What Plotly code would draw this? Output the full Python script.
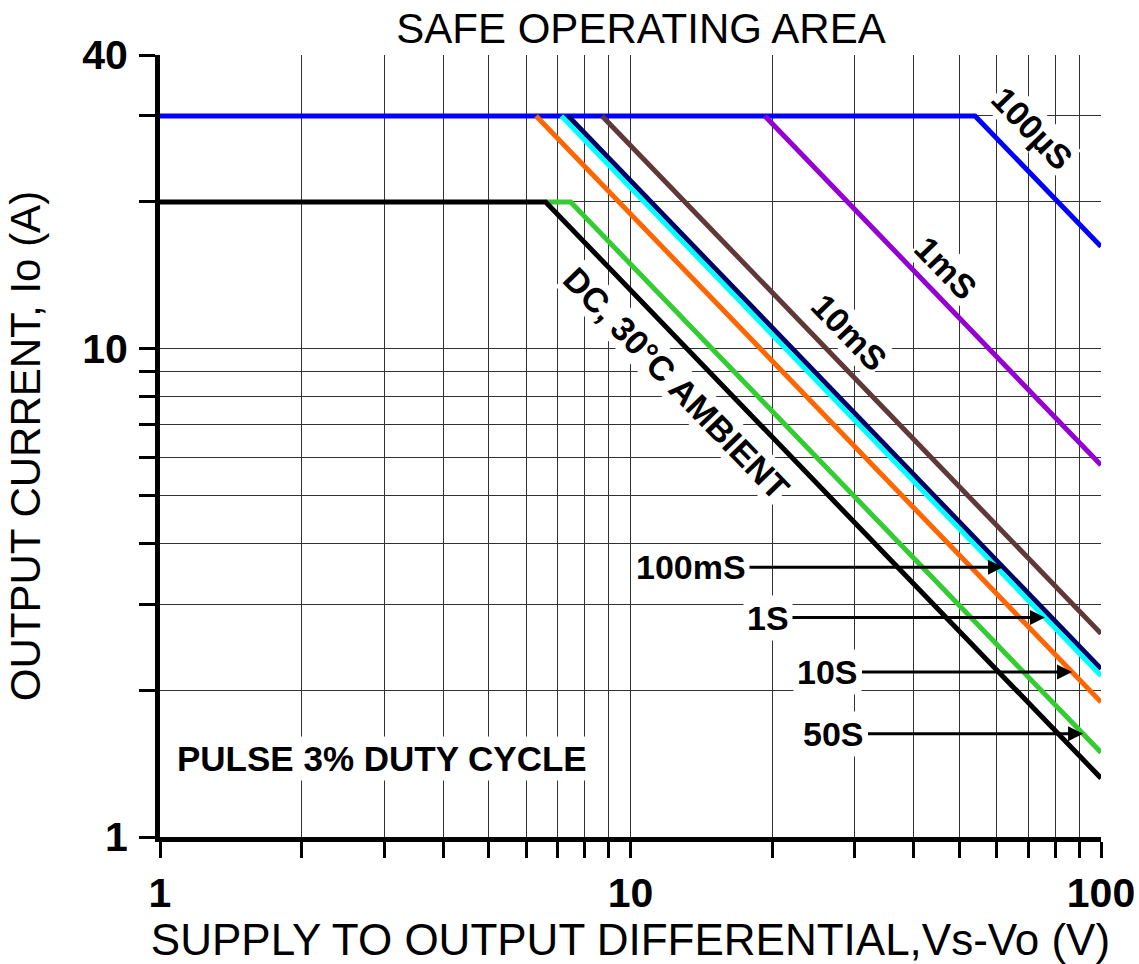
import math
import plotly.graph_objects as go

# ---------------- data ----------------
# Supply-to-output differential Vs-Vo (V) and output current Io (A) per curve
v_100us = [1, 54, 100]
i_100us = [30, 30, 16.2]
v_1ms = [19.3, 100]
i_1ms = [30, 5.78]
v_10ms = [8.7, 100]
i_10ms = [30, 2.61]
v_100ms = [7.37, 100]
i_100ms = [30, 2.21]
v_1s = [7.13, 100]
i_1s = [30, 2.14]
v_10s = [6.3, 100]
i_10s = [30, 1.89]
v_50s = [6.6, 7.46, 100]
i_50s = [20, 20, 1.49]
v_dc = [1, 6.6, 100]
i_dc = [20, 20, 1.32]

series_names = ["100µS", "1mS", "10mS", "100mS", "1S", "10S", "50S", "DC, 30°C AMBIENT"]
series_v = [v_100us, v_1ms, v_10ms, v_100ms, v_1s, v_10s, v_50s, v_dc]
series_i = [i_100us, i_1ms, i_10ms, i_100ms, i_1s, i_10s, i_50s, i_dc]
series_colors = ["#0000FF", "#9400D3", "#603838", "#000066", "#00FFFF",
                 "#FF6600", "#33CC33", "#000000"]

x_tickvals = [1, 2, 3, 4, 5, 6, 7, 8, 9, 10, 20, 30, 40, 50, 60, 70, 80, 90, 100]
x_ticktext = ["1"] + [""] * 8 + ["10"] + [""] * 8 + ["100"]
y_tickvals = [1, 2, 3, 4, 5, 6, 7, 8, 9, 10, 20, 30, 40]
y_ticktext = ["1"] + [""] * 8 + ["10", "", "", "40"]

# arrow-labelled curves: label, series index, V where arrow points
arrow_labels = ["100mS", "1S", "10S", "50S"]
arrow_series = [3, 4, 5, 6]
arrow_tip_v = [61.9, 76.0, 86.8, 91.6]

FONT = "Liberation Sans, Arial, Helvetica, sans-serif"

# plot area in pixels
PL, PR, PT, PB = 160, 1101, 55, 837


def px_to_paper(px, py):
    return (px - PL) / (PR - PL), (PB - py) / (PB - PT)


def interp_loglog(vs, cur, v):
    lv = math.log10(v)
    for k in range(len(vs) - 1):
        a, b = math.log10(vs[k]), math.log10(vs[k + 1])
        if a <= lv <= b:
            t = (lv - a) / (b - a)
            return 10 ** (math.log10(cur[k]) + t * (math.log10(cur[k + 1]) - math.log10(cur[k])))
    return cur[-1]


fig = go.Figure()
for name, vs, cur, col in zip(series_names, series_v, series_i, series_colors):
    fig.add_trace(go.Scatter(x=vs, y=cur, mode="lines", name=name,
                             line=dict(color=col, width=5), showlegend=False,
                             hoverinfo="skip"))

annotations = []
# rotated curve labels (pixel centres of the text)
rot_labels = [("100µS", 1032, 128), ("1mS", 946, 268), ("10mS", 849, 332),
              ("DC, 30°C AMBIENT", 676, 383)]
for txt, px, py in rot_labels:
    xp, yp = px_to_paper(px, py)
    annotations.append(dict(text=txt, x=xp, y=yp, xref="paper", yref="paper",
                            showarrow=False, textangle=46, xanchor="center",
                            yanchor="middle", bgcolor="white", borderpad=0,
                            font=dict(family=FONT, size=34, color="black",
                                      weight="bold")))

# pulse label
xp, yp = px_to_paper(382, 758)
annotations.append(dict(text="PULSE 3% DUTY CYCLE", x=xp, y=yp, xref="paper",
                        yref="paper", xanchor="center", yanchor="middle",
                        showarrow=False, bgcolor="white",
                        borderpad=2, font=dict(family=FONT, size=35,
                                               color="black", weight="bold")))

# arrow labels
text_centers_x = [691, 768, 828, 834]
for lab, si, tv, tcx in zip(arrow_labels, arrow_series, arrow_tip_v, text_centers_x):
    ti = interp_loglog(series_v[si], series_i[si], tv)
    tip_px = PL + (PR - PL) * math.log10(tv) / 2.0
    annotations.append(dict(text=lab, x=math.log10(tv), y=math.log10(ti),
                            xref="x", yref="y", showarrow=True, arrowhead=2,
                            arrowsize=1, arrowwidth=3, arrowcolor="black",
                            ax=tcx - tip_px, ay=0, bgcolor="white", borderpad=3,
                            font=dict(family=FONT, size=34, color="black",
                                      weight="bold")))

fig.update_layout(
    width=1139, height=964,
    margin=dict(l=PL, r=1139 - PR, t=PT, b=964 - PB, pad=0, autoexpand=False),
    paper_bgcolor="white", plot_bgcolor="white",
    title=dict(text="SAFE OPERATING AREA", x=641 / 1139, xanchor="center",
               y=1 - 28 / 964, yanchor="middle",
               font=dict(family=FONT, size=42, color="black")),
    annotations=annotations,
)

axis_common = dict(type="log", showline=True, linewidth=5, linecolor="black",
                   ticks="outside", ticklen=16, tickwidth=3, tickcolor="black",
                   showgrid=True, gridcolor="#333333", gridwidth=1,
                   zeroline=False, mirror=False, automargin=False,
                   tickfont=dict(family=FONT, size=41, color="black",
                                 weight="bold"))

fig.update_xaxes(range=[0, 2], tickmode="array", tickvals=x_tickvals,
                 ticktext=x_ticktext, ticklabelstandoff=0,
                 title=dict(text="SUPPLY TO OUTPUT DIFFERENTIAL,Vs-Vo (V)",
                            font=dict(family=FONT, size=44, color="black"),
                            standoff=6),
                 **axis_common)
fig.update_yaxes(range=[0, math.log10(40)], tickmode="array",
                 tickvals=y_tickvals, ticktext=y_ticktext, ticklabelstandoff=3,
                 title=dict(text="OUTPUT CURRENT, Io (A)",
                            font=dict(family=FONT, size=42, color="black"),
                            standoff=30),
                 **axis_common)

fig.write_html("out.html", config={"displayModeBar": False},
               post_script="document.body.style.margin='0';")
